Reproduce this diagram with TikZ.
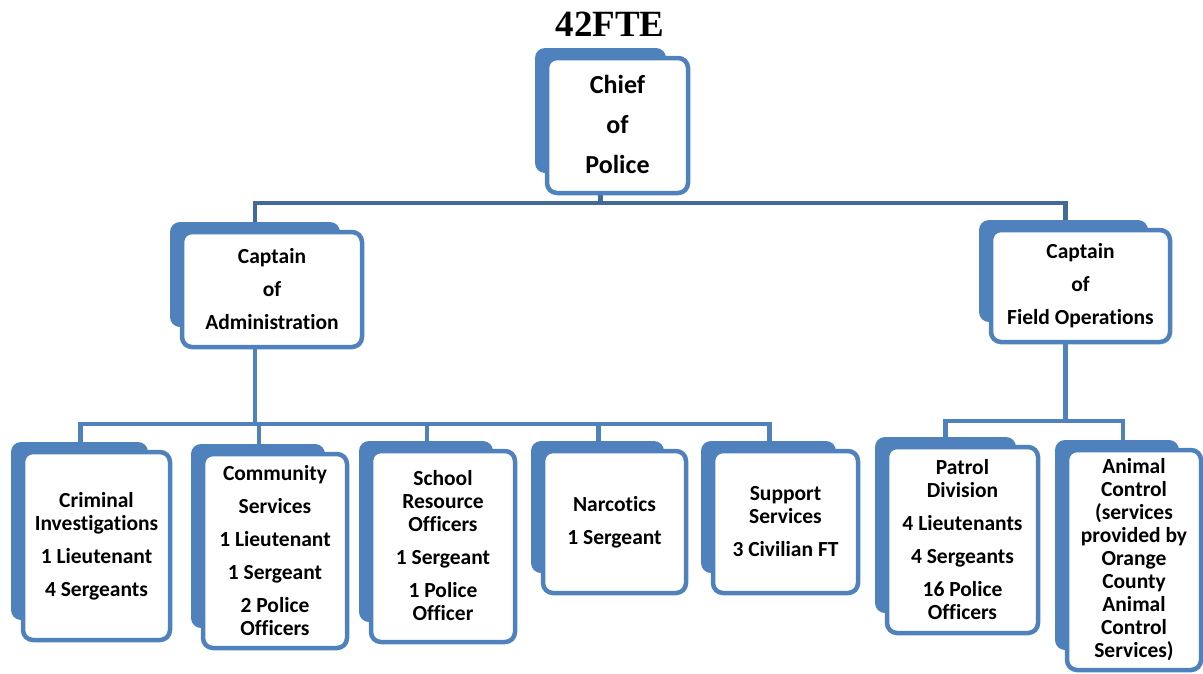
\documentclass[tikz,border=0pt]{standalone}
\usepackage{fontspec}
\setmainfont{Carlito}[Ligatures=NoCommon]
\newfontfamily\titlefont{Liberation Serif}
\usetikzlibrary{backgrounds}
\definecolor{boxblue}{HTML}{4F81BD}
\definecolor{busblue}{HTML}{41699A}
\tikzset{
    unit/.style={draw=boxblue, line width=4.5pt, fill=white, rounded corners=10pt,
        align=center, inner sep=0pt, outer sep=0pt,
        font=\bfseries\fontsize{21.5}{23}\selectfont,
        execute at end node={\rule[-2pt]{0pt}{0pt}}},
    link/.style={draw=boxblue, line width=4.5pt},
}

\begin{document}
\begin{tikzpicture}[x=1pt, y=-1pt]
    \useasboundingbox (0,0) rectangle (1203,673);

    \node[font=\titlefont\bfseries\fontsize{37}{40}\selectfont] (title) at (610,24) {42FTE};

    \node[unit, minimum width=141pt, minimum height=135pt,
        font=\bfseries\fontsize{26}{40}\selectfont] (chief) at (617.5,125.5) {Chief\\of\\Police};

    \node[unit, minimum width=180pt, minimum height=115pt] (capadm) at (272,289.5)
        {Captain\\[10pt]of\\[10pt]Administration};
    \node[unit, minimum width=179pt, minimum height=112pt] (capfld) at (1080.5,286)
        {Captain\\[10pt]of\\[10pt]Field Operations};

    % units under administration
    \node[unit, minimum width=147pt, minimum height=188pt] (crim) at (96.5,546)
        {Criminal\\Investigations\\[10pt]1 Lieutenant\\[10pt]4 Sergeants};
    \node[unit, minimum width=144pt, minimum height=194pt] (comm) at (275,551)
        {Community\\[10pt]Services\\[10pt]1 Lieutenant\\[10pt]1 Sergeant\\[10pt]2 Police\\Officers};
    \node[unit, minimum width=144pt, minimum height=191pt] (school) at (443,546.5)
        {School\\Resource\\Officers\\[10pt]1 Sergeant\\[10pt]1 Police\\Officer};
    \node[unit, minimum width=143pt, minimum height=142pt] (narc) at (614.5,522)
        {Narcotics\\[10pt]1 Sergeant};
    \node[unit, minimum width=145pt, minimum height=142pt] (supp) at (785.5,522)
        {Support\\Services\\[10pt]3 Civilian FT};

    % units under field operations
    \node[unit, minimum width=151pt, minimum height=186pt] (patrol) at (962.5,540)
        {Patrol\\Division\\[10pt]4 Lieutenants\\[10pt]4 Sergeants\\[10pt]16 Police\\Officers};
    \node[unit, minimum width=134pt, minimum height=220pt] (animal) at (1134,560)
        {Animal\\Control\\(services\\provided by\\Orange\\County\\Animal\\Control\\Services)};

    \begin{scope}[on background layer]
        \draw[link, draw=busblue] ([xshift=-17pt]chief.south) -- ++(0,10) coordinate (topbus)
            -| ([xshift=-17pt]capadm.north);
        \draw[link, draw=busblue] (topbus) -| ([xshift=-15pt]capfld.north);

        \draw[link] ([xshift=-17pt]capadm.south) -- ++(0,77) coordinate (admbus);
        \foreach \n in {crim,comm,school,narc,supp}
            \draw[link] (admbus) -| ([xshift=-16pt]\n.north);

        \draw[link] ([xshift=-15pt]capfld.south) -- ++(0,79) coordinate (fldbus);
        \draw[link] (fldbus) -| ([xshift=-17pt]patrol.north);
        \draw[link] (fldbus) -| ([xshift=-11pt]animal.north);

        % shadow boxes
        \foreach \n in {chief,capadm,capfld,crim,comm,school,narc,supp,patrol,animal}
            \fill[boxblue, rounded corners=10pt] ([shift={(-12,-10)}]\n.north west)
                rectangle ([shift={(-22,-20)}]\n.south east);
    \end{scope}
\end{tikzpicture}
\end{document}
